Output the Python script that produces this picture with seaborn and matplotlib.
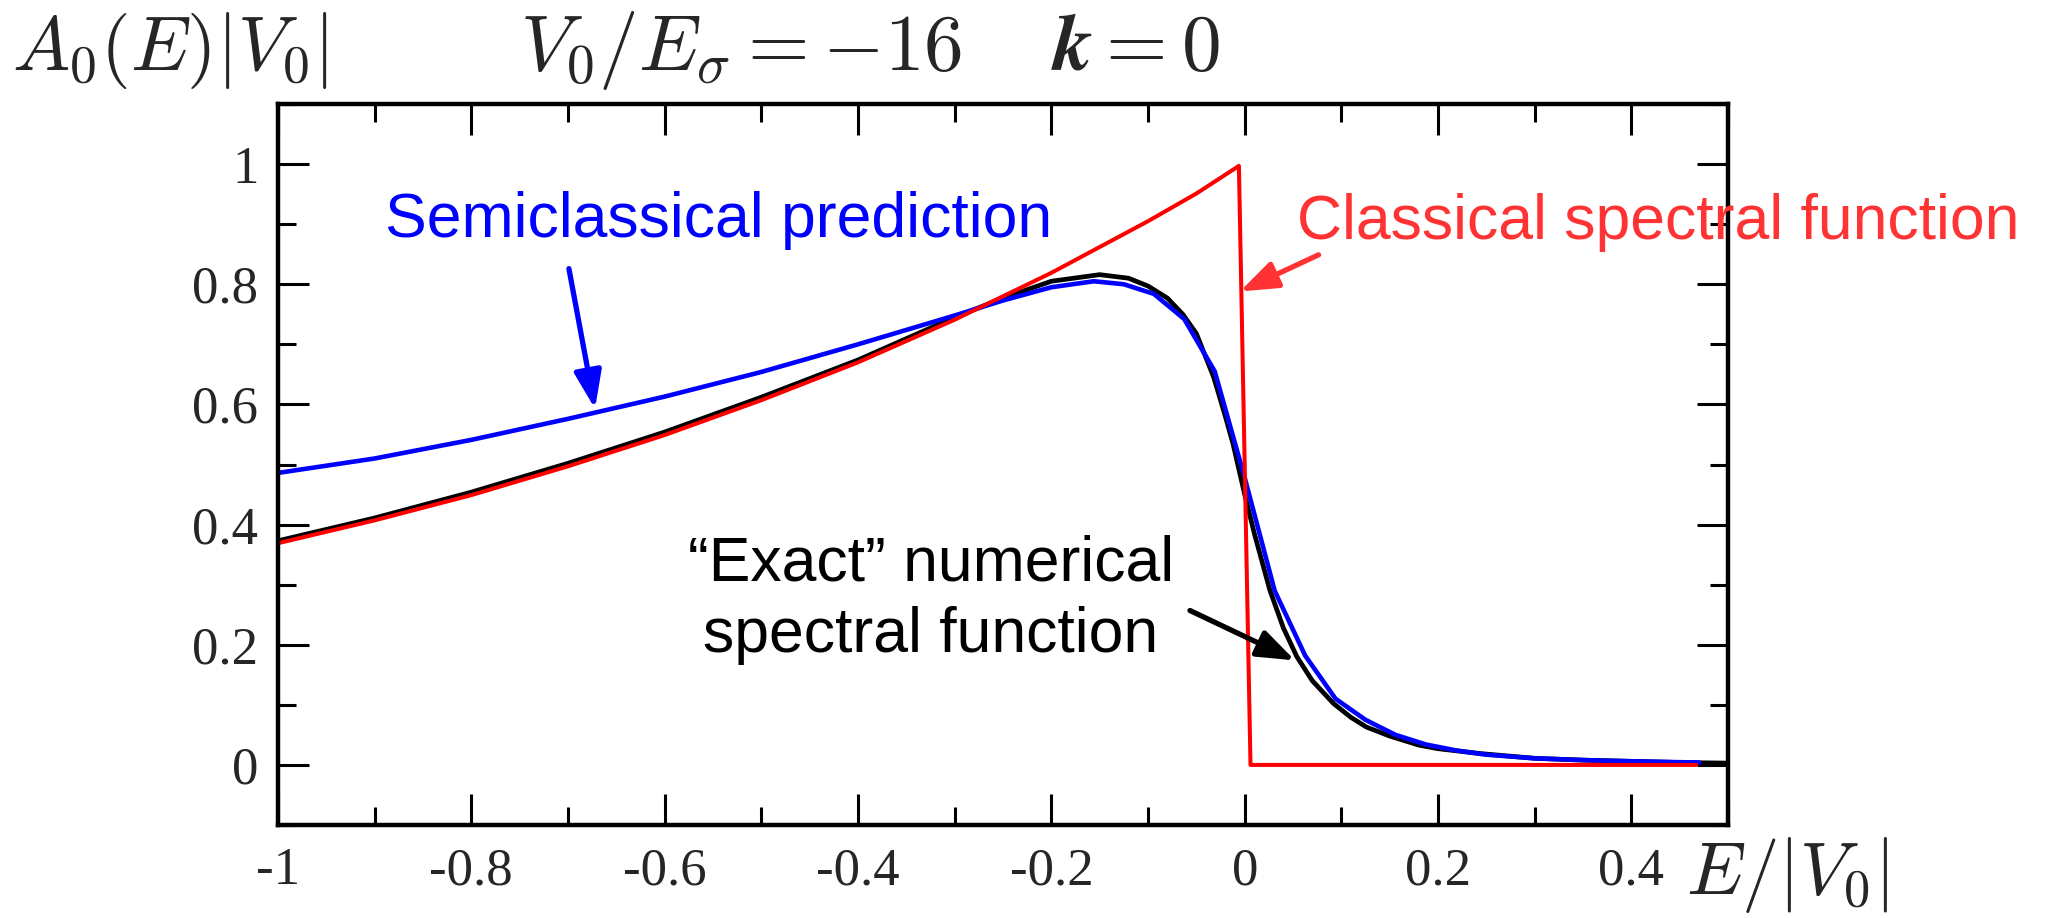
import matplotlib
matplotlib.use('Agg')
import matplotlib.pyplot as plt
import seaborn as sns
from matplotlib.ticker import FixedLocator, MultipleLocator

# ---------------- data ----------------
E_classical = [-1.0, -0.9, -0.8, -0.7, -0.6, -0.5, -0.4, -0.3, -0.2, -0.1, -0.05,
               -0.006, 0.006, 0.1, 0.2, 0.3, 0.4, 0.467]
A_classical = [0.369, 0.407, 0.449, 0.497, 0.549, 0.607, 0.670, 0.741, 0.819, 0.905, 0.951,
               0.997, 0.0, 0.0, 0.0, 0.0, 0.0, 0.0]

E_exact = [-1.0, -0.9, -0.8, -0.7, -0.6, -0.5, -0.4, -0.3, -0.25, -0.2, -0.15, -0.12,
           -0.1, -0.08, -0.064, -0.05, -0.032, -0.02, -0.012, 0.0, 0.01, 0.026, 0.04,
           0.054, 0.07, 0.092, 0.11, 0.126, 0.15, 0.18, 0.2, 0.243, 0.3, 0.35, 0.4,
           0.45, 0.5]
A_exact = [0.373, 0.411, 0.454, 0.502, 0.554, 0.612, 0.674, 0.745, 0.777, 0.805, 0.816, 0.810,
           0.797, 0.777, 0.750, 0.718, 0.645, 0.580, 0.534, 0.450, 0.385, 0.291, 0.228,
           0.180, 0.140, 0.102, 0.079, 0.063, 0.048, 0.033, 0.027, 0.019, 0.011, 0.008, 0.006,
           0.004, 0.003]

E_semi = [-1.0, -0.9, -0.8, -0.7, -0.6, -0.5, -0.4, -0.3, -0.25, -0.2, -0.156, -0.125,
          -0.094, -0.0625, -0.031, 0.0, 0.031, 0.0625, 0.094, 0.125, 0.156, 0.1875,
          0.219, 0.25, 0.3, 0.35, 0.4, 0.47]
A_semi = [0.486, 0.510, 0.541, 0.576, 0.613, 0.654, 0.700, 0.748, 0.773, 0.795, 0.805, 0.800,
          0.784, 0.742, 0.655, 0.478, 0.290, 0.182, 0.110, 0.075, 0.050, 0.034,
          0.024, 0.017, 0.011, 0.008, 0.006, 0.004]

x_ticks = [-1, -0.8, -0.6, -0.4, -0.2, 0, 0.2, 0.4]
x_tick_labels = ['-1', '-0.8', '-0.6', '-0.4', '-0.2', '0', '0.2', '0.4']
y_ticks = [0, 0.2, 0.4, 0.6, 0.8, 1]
y_tick_labels = ['0', '0.2', '0.4', '0.6', '0.8', '1']

label_semi = 'Semiclassical prediction'
label_classical = 'Classical spectral function'
label_exact = ['\u201cExact\u201d numerical', 'spectral function']

# ---------------- style ----------------
sns.set_theme(style='ticks')
plt.rcParams['font.family'] = ['Liberation Serif', 'DejaVu Serif']
plt.rcParams['mathtext.fontset'] = 'cm'

fig = plt.figure(figsize=(20.48, 9.18), dpi=100)
fig.patch.set_facecolor('white')
ax = fig.add_axes([0.1357, 0.1013, 0.7081, 0.7854])
ax.set_facecolor('white')

sns.lineplot(x=E_exact, y=A_exact, ax=ax, color='black', lw=3.4,
             estimator=None, sort=False)
sns.lineplot(x=E_semi, y=A_semi, ax=ax, color='#0000ff', lw=3.3,
             estimator=None, sort=False)
sns.lineplot(x=E_classical, y=A_classical, ax=ax, color='#ff0000', lw=2.9,
             estimator=None, sort=False)

ax.set_xlim(-1, 0.5)
ax.set_ylim(-0.1, 1.1)
ax.xaxis.set_major_locator(FixedLocator(x_ticks))
ax.set_xticklabels(x_tick_labels)
ax.yaxis.set_major_locator(FixedLocator(y_ticks))
ax.set_yticklabels(y_tick_labels)
ax.xaxis.set_minor_locator(MultipleLocator(0.1))
ax.yaxis.set_minor_locator(MultipleLocator(0.1))
ax.tick_params(which='both', direction='in', top=True, right=True,
               width=2.2, color='black')
ax.tick_params(which='major', length=22, labelsize=38, pad=16)
ax.tick_params(which='minor', length=13)
ax.tick_params(axis='y', which='major', pad=14)
for s in ax.spines.values():
    s.set_linewidth(3.2)
    s.set_color('black')
ax.set_xlabel('')
ax.set_ylabel('')

sans = ['Liberation Sans', 'DejaVu Sans']
ax.text(-0.889, 0.879, label_semi, color='#0000ff', fontsize=45,
        family=sans, ha='left', va='baseline')
ax.text(0.054, 0.875, label_classical, color='#ff3333', fontsize=45,
        family=sans, ha='left', va='baseline', clip_on=False)
ax.text(-0.3245, 0.307, label_exact[0], color='black', fontsize=45,
        family=sans, ha='center', va='baseline')
ax.text(-0.3245, 0.188, label_exact[1], color='black', fontsize=45,
        family=sans, ha='center', va='baseline')

def arrow(tail, tip, color):
    ax.annotate('', xy=tip, xytext=tail,
                arrowprops=dict(arrowstyle='-|>,head_length=0.6,head_width=0.22',
                                color=color, lw=3.8, mutation_scale=38,
                                shrinkA=0, shrinkB=0))

arrow((-0.699, 0.826), (-0.672, 0.593), '#0000ff')
arrow((0.0764, 0.849), (-0.005, 0.788), '#ff3333')
arrow((-0.0566, 0.257), (0.052, 0.174), 'black')

fig.text(0.006, 0.9237, r'$A_0(E)|V_0|$', fontsize=55, ha='left', va='baseline')
fig.text(0.823, 0.026, r'$E/|V_0|$', fontsize=54, ha='left', va='baseline')
title = fig.text(0.254, 0.9237, r'$V_0/E_\sigma=-16\quad\;\mathbfit{k}=0$',
                 fontsize=57, ha='left', va='baseline')
try:
    fig.canvas.draw()
except Exception:
    title.set_text(r'$V_0/E_\sigma=-16\quad\;\mathbf{k}=0$')

fig.savefig('out.png', dpi=100, facecolor='white')
